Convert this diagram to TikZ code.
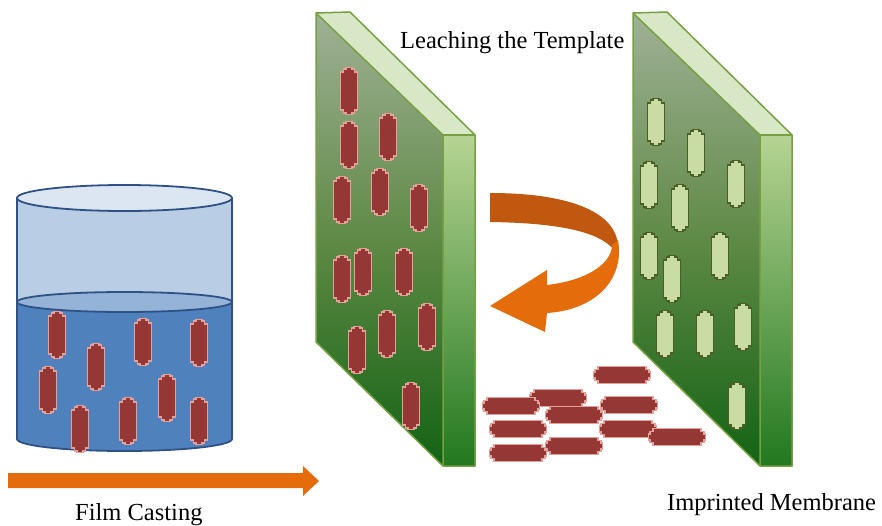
\documentclass[tikz,border=0pt]{standalone}
\usepackage{fontspec}
\setmainfont{Liberation Serif}
\usepackage{tikz}
\definecolor{liquid}{HTML}{4F81BD}
\definecolor{glass}{HTML}{B9CDE5}
\definecolor{glasstop}{HTML}{DCE6F2}
\definecolor{surface}{HTML}{95B3D7}
\definecolor{beakerrim}{HTML}{2F5286}
\definecolor{rodred}{HTML}{953735}
\definecolor{rodpink}{HTML}{E6A09A}
\definecolor{holefill}{HTML}{C9DCA3}
\definecolor{holerim}{HTML}{4B5E26}
\definecolor{slabtop}{HTML}{A0B196}
\definecolor{slabmid}{HTML}{5F8A46}
\definecolor{slabbot}{HTML}{136314}
\definecolor{sidetop}{HTML}{B6D493}
\definecolor{sidebot}{HTML}{22781F}
\definecolor{slablid}{HTML}{D8E8C6}
\definecolor{slabrim}{HTML}{77A043}
\definecolor{flow}{HTML}{E46C0A}
\definecolor{flowdark}{HTML}{C0580F}
\tikzset{
  rodline/.style={line width=1.3pt, line join=miter},
  slabedge/.style={draw=slabrim, line width=1.5pt, line join=round},
  caption/.style={font=\fontsize{24.5}{29}\selectfont, inner sep=0pt, anchor=base west}
}
\newcommand*{\UprightRods}[3]{% #1 = list of x/y, #2 = fill, #3 = rim
\foreach \x/\y in {#1} {
\draw [rodline, fill=#2, draw=#3, shift={(\x,\y)}]
(-8.5,-19) -- (-8.5,19) -- (-5.5,19) -- (-5.5,22) -- (-3,22) -- (-3,23.5)
-- (3,23.5) -- (3,22) -- (5.5,22) -- (5.5,19) -- (8.5,19) -- (8.5,-19)
-- (5.5,-19) -- (5.5,-22) -- (3,-22) -- (3,-23.5) -- (-3,-23.5)
-- (-3,-22) -- (-5.5,-22) -- (-5.5,-19) -- cycle;
}%
}
\newcommand*{\FlatRods}[1]{% #1 = list of x/y
\foreach \x/\y in {#1} {
\draw [rodline, fill=rodred, draw=rodpink, shift={(\x,\y)}]
(-24,-8.5) -- (24,-8.5) -- (24,-5.5) -- (27,-5.5) -- (27,-3) -- (28.5,-3)
-- (28.5,3) -- (27,3) -- (27,5.5) -- (24,5.5) -- (24,8.5) -- (-24,8.5)
-- (-24,5.5) -- (-27,5.5) -- (-27,3) -- (-28.5,3) -- (-28.5,-3)
-- (-27,-3) -- (-27,-5.5) -- (-24,-5.5) -- cycle;
}%
}
\newcommand*{\Slab}[1]{% #1 = x offset
\begin{scope}[shift={(#1,0)}]
\shade [top color=slabtop, bottom color=slabbot, middle color=slabmid]
(316,13) -- (443,135) -- (443,466) -- (316,342) -- cycle;
\shade [top color=sidetop, bottom color=sidebot]
(443,135) -- (475,135) -- (475,466) -- (443,466) -- cycle;
\fill [slablid] (316,13) -- (350,12) -- (475,135) -- (443,135) -- cycle;
\draw [slabedge] (316,13) -- (350,12) -- (475,135) -- (475,466)
-- (443,466) -- (316,342) -- cycle;
\draw [slabedge] (316,13) -- (443,135) -- (443,466);
\draw [slabedge] (443,135) -- (475,135);
\end{scope}%
}

\begin{document}
\begin{tikzpicture}[x=1pt, y=-1pt]
\useasboundingbox (0,0) rectangle (882,525);

% beaker with the casting solution
\begin{scope}[line width=1.8pt]
\fill [glass] (17,198) rectangle (232,302);
\fill [liquid] (17,302) -- (17,439)
arc [start angle=180, end angle=0, x radius=107.5, y radius=12]
-- (232,302) -- cycle;
\draw [beakerrim] (17,198) -- (17,439)
arc [start angle=180, end angle=0, x radius=107.5, y radius=12]
-- (232,198);
\filldraw [fill=surface, draw=beakerrim] (124.5,302) ellipse [x radius=107.5, y radius=10];
\filldraw [fill=glasstop, draw=beakerrim] (124.5,198) ellipse [x radius=107.5, y radius=13];
\end{scope}
\UprightRods{57/335,96/367,143/342,199/343,48/390,167/398,80/429,128/421,199/421}{rodred}{rodpink}

\fill [flow] (8,473) -- (303,473) -- (303,466) -- (319,481)
-- (303,496) -- (303,488) -- (8,488) -- cycle;
\node (casting) [caption] at (75,520) {Film Casting};

% cast film, template still inside
\Slab{0}
\UprightRods{349/91,349/145,388/137,342/200,380/192,419/208,342/279,
363/272,404/272,357/350,387/334,427/327,411/406}{rodred}{rodpink}
\node (leaching) [caption] at (400,48) {Leaching the Template};

% turning arrow
\fill [flowdark] (490,193) .. controls (565,193) and (615,210) .. (618,245)
-- (614,250) .. controls (600,232) and (560,223) .. (490,222) -- cycle;
\fill [flow] (547,285) .. controls (590,280) and (612,262) .. (612,245)
-- (618,240) .. controls (625,280) and (595,310) .. (547,313)
-- (545,332) -- (490,306) -- (547,270) -- cycle;

% membrane with empty cavities
\Slab{317}
\UprightRods{656/122,696/153,649/185,736/184,680/208,649/256,720/256,
672/279,665/334,705/334,743/327,737/406}{holefill}{holerim}
\node (membrane) [caption] at (667,510) {Imprinted Membrane};

% leached template
\FlatRods{622/375,558/398,511/406,629/405,574/415,518/429,628/429,
677/437,574/446,518/453}

\end{tikzpicture}
\end{document}
